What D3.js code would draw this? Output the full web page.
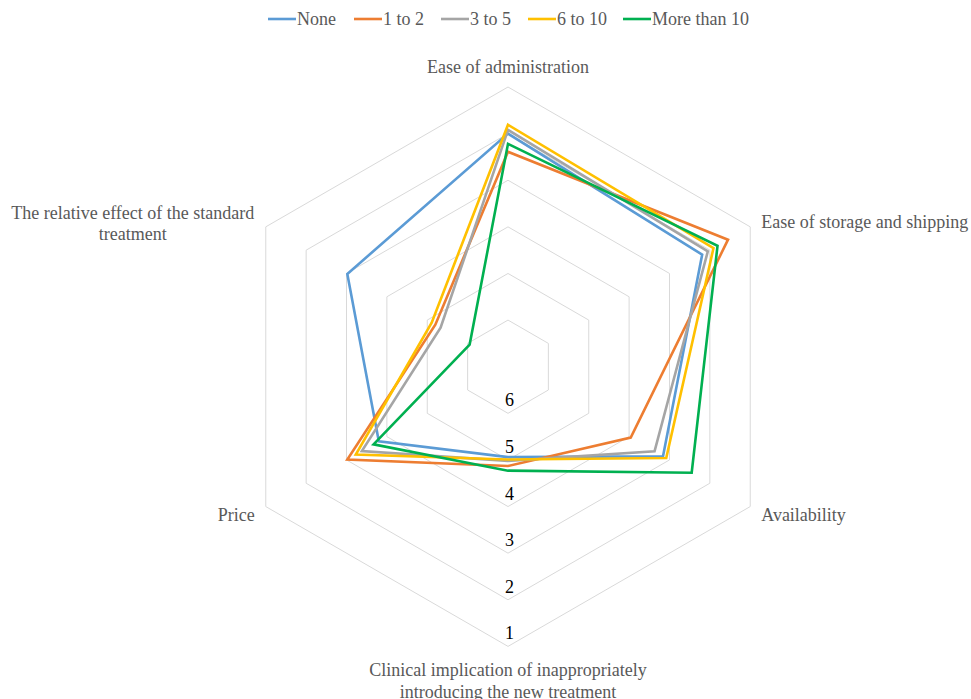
<!DOCTYPE html>
<html>
<head>
<meta charset="utf-8">
<script src="https://cdn.jsdelivr.net/npm/d3@7/dist/d3.min.js"></script>
<style>
  html, body { margin: 0; padding: 0; background: #fff; }
  svg { display: block; }
</style>
</head>
<body>
<svg id="chart" width="971" height="699"></svg>
<script>
// Axes of the radar, clockwise from the top
const categories = [
  ["Ease of administration"],
  ["Ease of storage and shipping"],
  ["Availability"],
  ["Clinical implication of inappropriately", "introducing the new treatment"],
  ["Price"],
  ["The relative effect of the standard", "treatment"]
];

const seriesNames = ["None", "1 to 2", "3 to 5", "6 to 10", "More than 10"];
const seriesColors = ["#5B9BD5", "#ED7D31", "#A5A5A5", "#FFC000", "#00B050"];

// Mean rank per attribute (1 = most important), one array per group
const valuesNone        = [2.00, 2.19, 3.16, 5.06, 3.80, 3.02];
const valuesOneToTwo    = [2.39, 1.55, 3.96, 4.87, 3.02, 5.20];
const valuesThreeToFive = [1.92, 2.05, 3.37, 4.98, 3.38, 5.33];
const valuesSixToTen    = [1.81, 1.91, 3.08, 5.01, 3.23, 5.11];
const valuesMoreThanTen = [2.22, 1.81, 2.45, 4.77, 3.67, 6.05];

const seriesValues = [valuesNone, valuesOneToTwo, valuesThreeToFive, valuesSixToTen, valuesMoreThanTen];

const tickValues = [6, 5, 4, 3, 2, 1];

const FONT = "'Liberation Serif'";
const FONT_SIZE = 18;
const svg = d3.select("#chart");
const cx = 508, cy = 366.7, R = 279.7;

// Reversed radial axis: rank 7 sits at the centre, rank 1 at the rim
const r = d3.scaleLinear().domain([7, 1]).range([0, R]);
const angle = d3.scaleLinear().domain([0, categories.length]).range([0, 2 * Math.PI]);

const g = svg.append("g").attr("transform", `translate(${cx},${cy})`);

const pt = (i, v) => {
  const a = angle(i);
  return [Math.sin(a) * r(v), -Math.cos(a) * r(v)];
};

// Hexagonal gridlines
const ringLine = d3.lineRadial().angle((d, i) => angle(i)).radius(d => r(d)).curve(d3.curveLinearClosed);
g.append("g").selectAll("path")
  .data(tickValues)
  .join("path")
  .attr("d", v => ringLine(categories.map(() => v)))
  .attr("fill", "none")
  .attr("stroke", "#d9d9d9")
  .attr("stroke-width", 1);

// Series polygons
const seriesLine = d3.lineRadial().angle((d, i) => angle(i)).radius(d => r(d)).curve(d3.curveLinearClosed);
g.append("g").selectAll("path")
  .data(seriesValues)
  .join("path")
  .attr("d", d => seriesLine(d))
  .attr("fill", "none")
  .attr("stroke", (d, i) => seriesColors[i])
  .attr("stroke-width", 2.6)
  .attr("stroke-linejoin", "miter");

// Tick labels along the downward axis
g.append("g").selectAll("text")
  .data(tickValues)
  .join("text")
  .attr("x", 1.5)
  .attr("y", v => r(v) - 7)
  .attr("text-anchor", "middle")
  .style("font-family", FONT)
  .attr("font-size", FONT_SIZE)
  .attr("fill", "#000")
  .text(v => v);

// Category labels
const labelPlacement = [
  { dx: 0,    dy: -14, anchor: "middle" },
  { dx: 11,   dy: 1,   anchor: "start" },
  { dx: 11,   dy: 14.5, anchor: "start" },
  { dx: 0,    dy: 30,  anchor: "middle" },
  { dx: -11,  dy: 14.5, anchor: "end" },
  { dx: -133, dy: -8,  anchor: "middle" }
];
const catG = g.append("g");
categories.forEach((lines, i) => {
  const [x, y] = pt(i, 1);
  const p = labelPlacement[i];
  const t = catG.append("text")
    .attr("x", x + p.dx)
    .attr("y", y + p.dy)
    .attr("text-anchor", p.anchor)
    .style("font-family", FONT)
    .attr("font-size", FONT_SIZE)
    .attr("fill", "#595959");
  lines.forEach((line, k) => {
    t.append("tspan")
      .attr("x", x + p.dx)
      .attr("dy", k === 0 ? 0 : 21.5)
      .text(line);
  });
});

// Legend
const legendX = [268, 354, 441, 528, 623];
const legend = svg.append("g").attr("transform", "translate(0,19)");
const items = legend.selectAll("g")
  .data(seriesNames)
  .join("g")
  .attr("transform", (d, i) => `translate(${legendX[i]},0)`);
items.append("line")
  .attr("x1", 0).attr("x2", 28)
  .attr("y1", 0).attr("y2", 0)
  .attr("stroke", (d, i) => seriesColors[i])
  .attr("stroke-width", 2.6);
items.append("text")
  .attr("x", 29)
  .attr("y", 6)
  .style("font-family", FONT)
  .attr("font-size", FONT_SIZE)
  .attr("fill", "#595959")
  .text(d => d);
</script>
</body>
</html>
